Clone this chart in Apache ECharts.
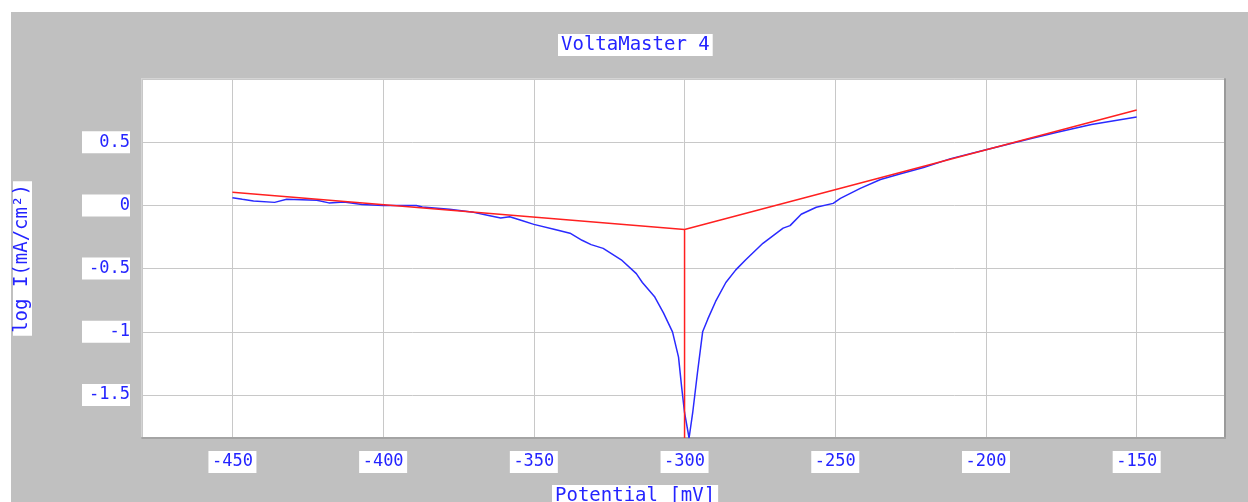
<!DOCTYPE html>
<html>
<head>
    <meta charset="utf-8">
    <title>VoltaMaster 4</title>
    <script src="https://cdn.jsdelivr.net/npm/echarts@6/dist/echarts.min.js"></script>
    <style>
        html, body { margin: 0; padding: 0; background: #fff; }
        #chart1 { position: absolute; left: 11px; top: 12px; width: 1237px; height: 490px; }
    </style>
</head>
<body>
<div id="chart1"></div>
<script type="text/javascript">
    // measured curve: potential (mV) and log I (mA/cm2)
    var potential = [-450, -446.7, -443, -436, -432, -422, -418, -413, -407, -400, -389, -387, -378, -370, -365, -361,
        -358, -354, -350, -343, -338, -334, -331, -327, -321, -316, -314, -310, -307, -304, -302, -301, -300, -298.5,
        -297.3, -295.7, -294, -292.3, -289.7, -286.3, -283, -279.7, -274, -267.3, -265, -261.3, -256.3, -250.7, -248.3,
        -241.7, -235, -228.3, -220.7, -211.7, -200, -185, -176, -165, -150];
    var logI = [0.06, 0.048, 0.035, 0.024, 0.048, 0.04, 0.02, 0.027, 0.008, 0, 0, -0.013, -0.03, -0.055, -0.08, -0.10,
        -0.09, -0.12, -0.15, -0.19, -0.22, -0.276, -0.31, -0.34, -0.43, -0.54, -0.61, -0.72, -0.85, -1.0, -1.2, -1.43, -1.64, -1.84,
        -1.64, -1.32, -1.0, -0.9, -0.76, -0.61, -0.51, -0.43, -0.30, -0.18, -0.16, -0.07, -0.015, 0.016, 0.055,
        0.135, 0.205, 0.25, 0.30, 0.37, 0.44, 0.53, 0.58, 0.64, 0.70];

    // tafel fit lines
    var tafelX = [-450, -300, -300, -300, -150];
    var tafelY = [0.105, -0.19, -1.84, -0.19, 0.755];

    function zip(xs, ys) {
        var out = [];
        for (var i = 0; i < xs.length; i++) out.push([xs[i], ys[i]]);
        return out;
    }

    var blue = '#2424ff';
    var font = 'DejaVu Sans Mono';
    var labelBox = {
        color: blue, fontFamily: font, fontSize: 17,
        backgroundColor: '#fff', width: 48, height: 22, lineHeight: 22
    };

    var myChart = echarts.init(document.getElementById('chart1'));
    myChart.setOption({
        animation: false,
        backgroundColor: '#c0c0c0',
        title: [{
            text: 'VoltaMaster 4', left: 547, top: 22, padding: [1, 3],
            backgroundColor: '#fff',
            textStyle: { color: blue, fontFamily: font, fontSize: 19, fontWeight: 'normal', lineHeight: 20 }
        }, {
            text: 'Potential [mV]', left: 541, top: 473, padding: [1, 3],
            backgroundColor: '#fff',
            textStyle: { color: blue, fontFamily: font, fontSize: 19, fontWeight: 'normal', lineHeight: 20 }
        }],
        grid: {
            left: 131, top: 67, right: 23, bottom: 64, outerBoundsMode: 'none', containLabel: false,
            show: true, backgroundColor: '#fff', borderColor: '#d4d4d4', borderWidth: 2
        },
        xAxis: {
            type: 'value', min: -480, max: -120.7, splitNumber: 7,
            axisLine: { show: true, onZero: false, lineStyle: { color: '#a4a4a4', width: 2 } },
            axisTick: { show: false },
            splitLine: { lineStyle: { color: '#c8c8c8', width: 1 } },
            axisLabel: Object.assign({ margin: 13, align: 'center', showMinLabel: false, showMaxLabel: false }, labelBox)
        },
        yAxis: [{
            type: 'value', min: -1.84, max: 1.0, splitNumber: 6,
            name: 'log I(mA/cm²)', nameLocation: 'middle', nameGap: 110,
            nameTextStyle: { color: blue, fontFamily: font, fontSize: 19, backgroundColor: '#fff', padding: [0, 3] },
            axisLine: { show: false },
            axisTick: { show: false },
            splitLine: { lineStyle: { color: '#c8c8c8', width: 1 } },
            axisLabel: Object.assign({ margin: 12, align: 'right', showMinLabel: false, showMaxLabel: false }, labelBox)
        }, {
            type: 'value', min: -1.84, max: 1.0, position: 'right',
            axisLine: { show: true, onZero: false, lineStyle: { color: '#9a9a9a', width: 2 } },
            axisTick: { show: false }, axisLabel: { show: false }, splitLine: { show: false }
        }],
        series: [{
            name: 'measured', type: 'line', data: zip(potential, logI),
            showSymbol: false, lineStyle: { color: '#2a2aff', width: 1.5 }
        }, {
            name: 'tafel', type: 'line', data: zip(tafelX, tafelY),
            showSymbol: false, lineStyle: { color: '#ff2020', width: 1.5 }
        }]
    });
</script>
</body>
</html>
